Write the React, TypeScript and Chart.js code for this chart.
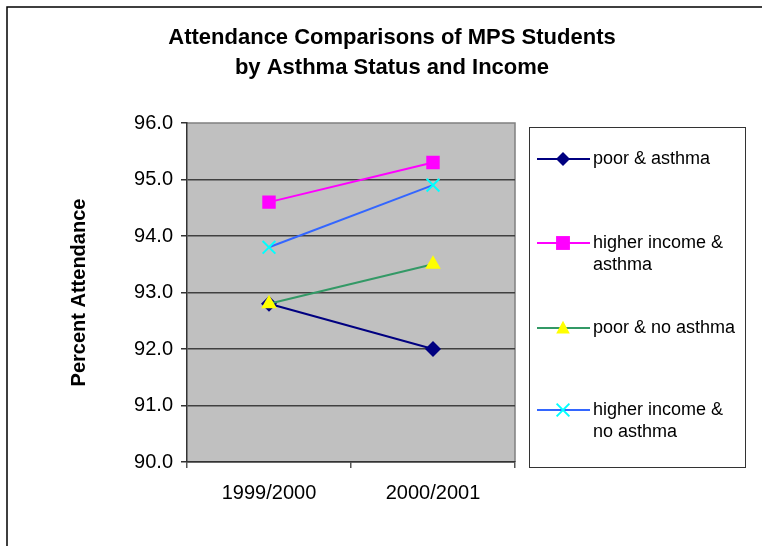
import React, { useEffect, useRef } from 'react';
import { Chart, registerables } from 'chart.js';

Chart.register(...registerables);

const TITLE_LINES = ['Attendance Comparisons of MPS Students', 'by Asthma Status and Income'];
const Y_TITLE = 'Percent Attendance';
const CATEGORIES = ['1999/2000', '2000/2001'];
const POOR_ASTHMA = [92.8, 92.0];
const HIGHER_ASTHMA = [94.6, 95.3];
const POOR_NO_ASTHMA = [92.8, 93.5];
const HIGHER_NO_ASTHMA = [93.8, 94.9];
const SERIES_VALUES = [POOR_ASTHMA, HIGHER_ASTHMA, POOR_NO_ASTHMA, HIGHER_NO_ASTHMA];
const SERIES_LABELS = [
  ['poor & asthma'],
  ['higher income &', 'asthma'],
  ['poor & no asthma'],
  ['higher income &', 'no asthma'],
];
const Y_MIN = 90;
const Y_MAX = 96;
const Y_STEP = 1;

const LINE_COLORS = ['#000080', '#FF00FF', '#339966', '#3366FF'];
const MARKER_COLORS = ['#000080', '#FF00FF', '#FFFF00', '#00FFFF'];
const MARKER_STYLES = ['rectRot', 'rect', 'triangle', 'crossRot'];
const MARKER_RADII = [8, 9.5, 9, 9];
const LEGEND_MARKER_RADII = [7, 9.8, 8.5, 9];

const FONT = '"Liberation Sans", Arial, sans-serif';

function drawMarker(ctx: CanvasRenderingContext2D, style: string, x: number, y: number, r: number, color: string) {
  ctx.save();
  ctx.fillStyle = color;
  ctx.strokeStyle = color;
  ctx.lineWidth = 2;
  ctx.beginPath();
  if (style === 'rectRot') {
    ctx.moveTo(x, y - r);
    ctx.lineTo(x + r, y);
    ctx.lineTo(x, y + r);
    ctx.lineTo(x - r, y);
    ctx.closePath();
    ctx.fill();
  } else if (style === 'rect') {
    const s = r * Math.SQRT1_2;
    ctx.rect(x - s, y - s, 2 * s, 2 * s);
    ctx.fill();
  } else if (style === 'triangle') {
    ctx.moveTo(x, y - r * 0.85);
    ctx.lineTo(x + r * 0.8, y + r * 0.65);
    ctx.lineTo(x - r * 0.8, y + r * 0.65);
    ctx.closePath();
    ctx.fill();
  } else {
    const s = r * Math.SQRT1_2;
    ctx.moveTo(x - s, y - s);
    ctx.lineTo(x + s, y + s);
    ctx.moveTo(x + s, y - s);
    ctx.lineTo(x - s, y + s);
    ctx.stroke();
  }
  ctx.restore();
}

const decorPlugin = {
  id: 'decor',
  beforeDraw(chart: any) {
    const { ctx, chartArea } = chart;
    ctx.save();
    ctx.fillStyle = '#FFFFFF';
    ctx.fillRect(0, 0, chart.width, chart.height);
    ctx.fillStyle = '#C0C0C0';
    ctx.fillRect(chartArea.left, chartArea.top, chartArea.right - chartArea.left, chartArea.bottom - chartArea.top);
    ctx.strokeStyle = '#808080';
    ctx.lineWidth = 1.5;
    ctx.beginPath();
    ctx.moveTo(chartArea.left, chartArea.top);
    ctx.lineTo(chartArea.right, chartArea.top);
    ctx.lineTo(chartArea.right, chartArea.bottom);
    ctx.stroke();
    ctx.restore();
  },
  afterDraw(chart: any) {
    const { ctx } = chart;
    ctx.save();
    // outer frame
    ctx.strokeStyle = '#000000';
    ctx.lineWidth = 1.5;
    ctx.strokeRect(7, 7, 900, 700);
    // title
    ctx.fillStyle = '#000000';
    ctx.font = `bold 22px ${FONT}`;
    ctx.textAlign = 'center';
    ctx.textBaseline = 'middle';
    TITLE_LINES.forEach((t, i) => ctx.fillText(t, 392, 38 + i * 30));
    // legend box
    ctx.strokeStyle = '#333333';
    ctx.lineWidth = 1;
    ctx.strokeRect(529.5, 127.5, 216, 340);
    const rowY = [159, 243, 328, 410];
    ctx.font = `18px ${FONT}`;
    ctx.textAlign = 'left';
    chart.data.datasets.forEach((ds: any, i: number) => {
      const y = rowY[i];
      ctx.strokeStyle = LINE_COLORS[i];
      ctx.lineWidth = 2;
      ctx.beginPath();
      ctx.moveTo(537, y);
      ctx.lineTo(590, y);
      ctx.stroke();
      drawMarker(ctx, MARKER_STYLES[i], 563, y, LEGEND_MARKER_RADII[i], MARKER_COLORS[i]);
      ctx.fillStyle = '#000000';
      SERIES_LABELS[i].forEach((line, j) => ctx.fillText(line, 593, y + j * 22));
    });
    ctx.restore();
  },
};

export default function App() {
  const ref = useRef<HTMLCanvasElement>(null);
  useEffect(() => {
    const canvas = ref.current!;
    const chart = new Chart(canvas, {
      type: 'line',
      data: {
        labels: CATEGORIES,
        datasets: SERIES_VALUES.map((vals, i) => ({
          label: SERIES_LABELS[i].join(' '),
          data: vals,
          borderColor: LINE_COLORS[i],
          backgroundColor: MARKER_COLORS[i],
          pointBackgroundColor: MARKER_COLORS[i],
          pointBorderColor: MARKER_COLORS[i],
          pointBorderWidth: MARKER_STYLES[i] === 'crossRot' ? 2 : 0,
          pointStyle: MARKER_STYLES[i] as any,
          pointRadius: MARKER_RADII[i],
          borderWidth: 2,
          fill: false,
          tension: 0,
          order: SERIES_VALUES.length - i,
        })),
      },
      options: {
        responsive: false,
        animation: false,
        devicePixelRatio: 1,
        layout: { padding: { top: 123, right: 247, bottom: 34, left: 0 } },
        plugins: {
          legend: { display: false },
          title: { display: false },
          tooltip: { enabled: false },
        },
        scales: {
          x: {
            type: 'category',
            offset: true,
            grid: {
              offset: true,
              drawOnChartArea: false,
              drawTicks: true,
              tickLength: 6,
              tickColor: '#555555',
              lineWidth: 1.5,
            },
            border: { color: '#333333', width: 1.5 },
            ticks: {
              color: '#000000',
              padding: 13,
              font: { family: FONT, size: 20 },
              maxRotation: 0,
            },
            afterFit: (scale: any) => {
              scale.height = 50;
            },
          },
          y: {
            min: Y_MIN,
            max: Y_MAX,
            ticks: {
              stepSize: Y_STEP,
              color: '#000000',
              padding: 8,
              font: { family: FONT, size: 20 },
              callback: (v: any) => Number(v).toFixed(1),
            },
            grid: {
              color: (c: any) => (c.tick && c.tick.value === Y_MAX ? 'rgba(0,0,0,0)' : '#404040'),
              tickColor: '#333333',
              lineWidth: 1.5,
              tickLength: 6,
            },
            border: { color: '#333333', width: 1.5 },
            title: {
              display: true,
              text: Y_TITLE,
              color: '#000000',
              font: { family: FONT, size: 20, weight: 'bold' },
              padding: { top: 67, bottom: 0 },
            },
            afterFit: (scale: any) => {
              scale.width = 187;
            },
          },
        },
      },
      plugins: [decorPlugin],
    });
    return () => chart.destroy();
  }, []);
  return (
    <div style={{ position: 'fixed', left: 0, top: 0, width: 762, height: 546 }}>
      <canvas ref={ref} width={762} height={546} style={{ width: 762, height: 546, display: 'block' }} />
    </div>
  );
}
